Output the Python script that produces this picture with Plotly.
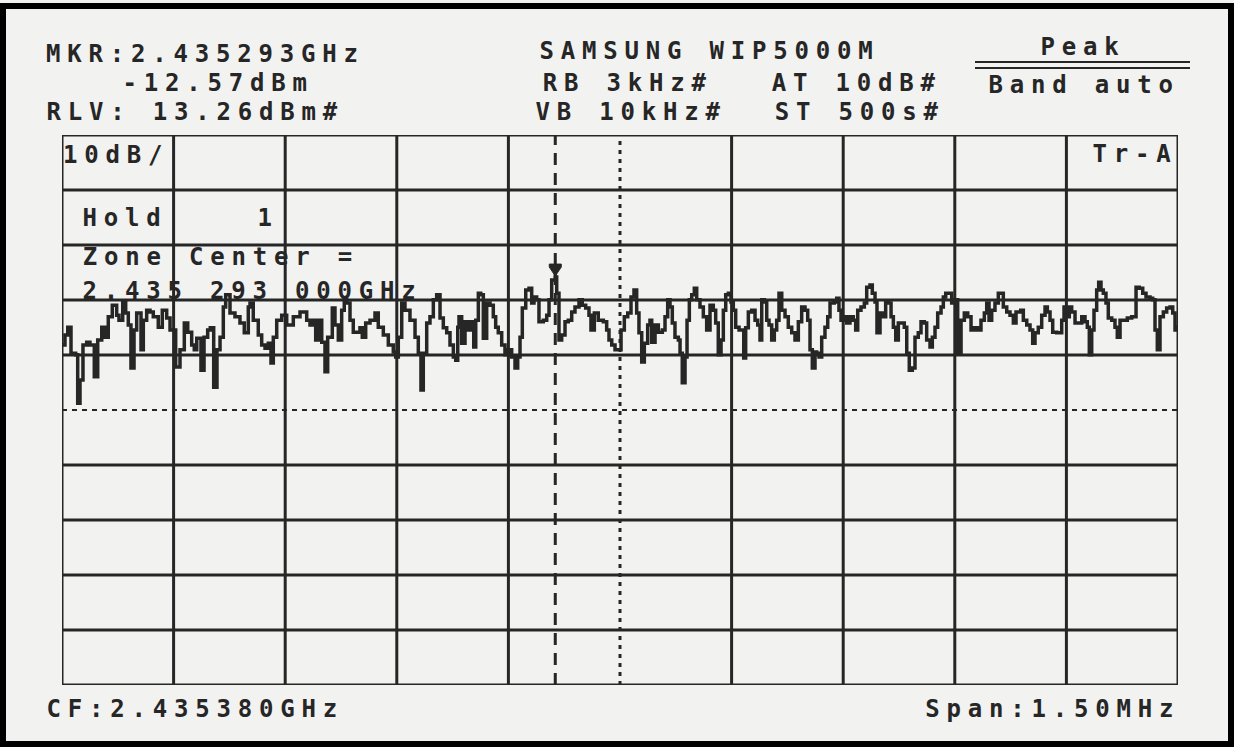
import plotly.graph_objects as go

# ---- instrument settings ----
CF_GHZ = 2.435380
SPAN_MHZ = 1.50
RLV_DBM = 13.26
DB_PER_DIV = 10
N_DIV = 10
MKR_GHZ = 2.435293
MKR_DBM = -12.57

# ---- trace: sweep position (kHz from start of span) and level (dBm) ----
sweep_khz = [
    0, 4.0, 7.7, 12.1, 18.4, 21.1, 24.2, 28.2, 33.2, 37.6, 43.4, 48.0, 53.4, 57.8, 62.2, 67.6, 73.5, 76.6,
    81.6, 85.6, 89.1, 92.7, 96.8, 100.4, 106.2, 109.3, 113.8, 118.3, 122.7, 129.4, 134.8, 140.7, 145.2,
    152.8, 158.6, 164.4, 169.0, 174.3, 177.8, 181.1, 186.8, 190.9, 195.8, 199.3, 203.9, 208.3, 212.4,
    216.8, 220.0, 225.8, 232.5, 239.2, 245.0, 250.4, 252.7, 257.1, 263.8, 268.4, 272.9, 277.3, 280.9,
    284.0, 288.6, 295.3, 302.0, 310.9, 319.9, 328.9, 333.3, 337.8, 341.0, 344.5, 349.1, 353.5, 357.1,
    363.3, 366.9, 371.4, 375.9, 379.4, 382.7, 387.1, 391.5, 400.5, 403.6, 408.2, 414.0, 420.7, 425.1,
    431.9, 438.6, 445.3, 448.5, 452.0, 456.6, 461.0, 467.7, 474.5, 478.9, 482.5, 485.6, 490.2, 494.6,
    499.1, 503.6, 508.1, 512.5, 517.1, 521.5, 526.0, 529.2, 531.9, 533.6, 537.2, 541.7, 546.1, 550.7,
    553.4, 556.1, 559.6, 562.8, 566.3, 570.8, 575.3, 579.7, 582.9, 586.4, 591.0, 595.4, 599.9, 604.4,
    608.9, 612.5, 615.6, 618.7, 623.3, 627.7, 631.3, 634.4, 638.0, 641.1, 646.9, 651.5, 654.6, 658.2,
    663.0, 664.9, 668.0, 671.6, 676.1, 680.5, 685.1, 689.5, 694.9, 699.3, 703.9, 708.3, 711.0, 715.5,
    720.8, 727.6, 732.1, 735.2, 738.9, 743.3, 747.7, 751.4, 755.8, 760.4, 764.8, 768.8, 772.4, 775.5,
    779.2, 782.7, 787.2, 790.3, 792.6, 797.1, 801.5, 806.9, 810.5, 814.1, 817.2, 820.3, 823.9, 828.4,
    830.7, 833.7, 837.4, 840.1, 843.2, 846.4, 849.9, 853.1, 857.5, 862.0, 866.5, 871.0, 875.4, 878.6,
    882.1, 885.8, 888.9, 892.1, 895.6, 899.2, 902.3, 905.5, 910.0, 913.6, 916.3, 918.9, 922.5, 927.0,
    931.5, 935.1, 938.2, 940.5, 944.0, 947.2, 950.3, 953.9, 957.4, 960.6, 963.7, 967.4, 971.8, 976.2,
    980.8, 985.2, 989.7, 994.2, 998.7, 1002.3, 1005.4, 1008.5, 1012.1, 1014.4, 1017.5, 1021.1, 1025.5,
    1029.2, 1032.3, 1038.0, 1041.3, 1044.3, 1047.1, 1051.5, 1054.7, 1059.1, 1063.6, 1066.8, 1069.5,
    1073.9, 1078.4, 1081.6, 1086.0, 1089.1, 1092.8, 1095.4, 1099.5, 1103.9, 1107.1, 1110.6, 1114.3,
    1117.4, 1120.6, 1124.1, 1129.4, 1132.1, 1135.4, 1138.8, 1142.9, 1146.5, 1150.9, 1154.6, 1159.0,
    1162.2, 1166.7, 1169.8, 1173.4, 1177.0, 1181.5, 1184.6, 1187.8, 1191.3, 1195.8, 1200.3, 1203.9,
    1208.4, 1212.8, 1217.4, 1221.8, 1226.2, 1230.8, 1235.2, 1239.7, 1242.9, 1246.0, 1249.6, 1254.0,
    1258.5, 1262.1, 1265.2, 1269.8, 1274.2, 1278.7, 1282.3, 1288.6, 1292.1, 1296.7, 1301.1, 1304.7,
    1307.8, 1312.2, 1316.8, 1321.3, 1324.4, 1328.0, 1331.6, 1337.0, 1340.5, 1343.7, 1346.8, 1350.4,
    1353.9, 1357.1, 1361.6, 1366.0, 1370.6, 1375.0, 1378.1, 1380.8, 1384.0, 1387.1, 1390.7, 1393.4,
    1396.5, 1399.6, 1403.2, 1406.3, 1410.9, 1415.3, 1418.4, 1422.1, 1427.4, 1431.9, 1437.8, 1443.6,
    1448.0, 1452.6, 1457.0, 1462.4, 1466.0, 1469.1, 1472.2, 1475.8, 1480.3, 1484.8, 1489.3, 1492.9,
    1496.0, 1500.0,
]
level_dbm = [
    -24.9, -23.1, -21.7, -26.4, -26.7, -35.5, -31.3, -24.9, -24.4, -24.9, -30.7, -24.0, -21.7, -23.5, -19.8, -17.7, -19.5, -20.4,
    -17.1, -19.1, -21.3, -29.1, -22.2, -19.1, -25.8, -20.4, -18.6, -18.9, -19.8, -21.7, -18.6, -20.0, -22.2,
    -28.9, -25.8, -20.9, -22.6, -24.9, -25.8, -23.7, -29.5, -23.5, -22.2, -21.8, -32.6, -25.8, -23.5,
    -18.0, -15.8, -19.1, -19.8, -20.9, -22.7, -18.0, -17.3, -20.4, -23.1, -24.9, -25.5, -24.6, -28.2,
    -23.5, -20.4, -19.5, -21.3, -19.8, -18.9, -20.4, -21.3, -20.4, -24.0, -20.4, -24.4, -29.8, -23.5,
    -18.2, -21.3, -24.0, -18.6, -16.7, -17.3, -20.4, -22.6, -21.8, -23.5, -20.9, -20.4, -19.1, -21.7,
    -23.1, -24.9, -26.2, -27.1, -23.5, -17.3, -18.6, -20.4, -23.5, -26.4, -33.1, -26.4, -20.9, -19.8,
    -16.7, -15.8, -20.0, -21.8, -22.7, -24.9, -27.1, -27.7, -21.7, -19.8, -24.6, -20.7, -22.2, -20.7,
    -25.3, -20.4, -15.5, -15.8, -23.7, -17.3, -17.7, -19.8, -21.7, -22.7, -24.9, -26.7, -25.8, -27.1,
    -29.1, -27.1, -23.5, -18.2, -14.9, -14.6, -17.3, -16.2, -16.7, -20.7, -20.4, -19.5, -16.7, -13.1,
    -12.57, -15.5, -24.0, -23.1, -20.7, -20.4, -18.9, -18.0, -16.7, -17.7, -18.2, -19.5, -22.2, -19.1,
    -20.4, -20.7, -22.2, -24.0, -24.9, -25.8, -25.8, -22.2, -19.8, -19.1, -16.2, -14.9, -19.1, -22.7,
    -28.0, -24.6, -21.3, -20.4, -24.4, -21.3, -22.6, -22.2, -19.8, -16.7, -18.0, -20.9, -23.5, -24.0,
    -26.4, -31.8, -27.1, -20.4, -16.7, -15.8, -14.6, -16.7, -18.0, -19.8, -22.2, -17.7, -18.6, -20.9,
    -26.7, -24.0, -18.6, -15.8, -15.5, -17.1, -18.6, -21.7, -22.2, -22.2, -27.3, -21.8, -18.9, -18.6,
    -20.4, -21.3, -24.0, -16.7, -17.1, -20.4, -21.3, -24.0, -22.2, -20.4, -15.5, -18.6, -19.8, -21.7,
    -22.7, -24.0, -20.7, -18.0, -18.6, -20.4, -25.8, -29.1, -26.2, -26.4, -27.1, -23.5, -21.7,
    -19.8, -17.3, -17.1, -16.4, -18.6, -20.4, -19.8, -20.9, -19.8, -20.4, -22.2, -18.6,
    -18.0, -17.3, -14.4, -14.0, -15.5, -17.1, -22.7, -19.1, -19.8, -17.1, -17.3, -19.8,
    -21.7, -24.0, -20.9, -20.9, -21.7, -26.4, -29.5, -29.1, -23.5, -22.7, -20.7, -20.9,
    -24.0, -25.3, -23.5, -21.7, -19.1, -18.0, -16.2, -15.5, -15.5, -17.3, -16.7, -26.4,
    -20.4, -19.1, -19.8, -22.2, -21.8, -22.2, -20.4, -19.1, -17.3, -20.4, -18.6, -17.3,
    -15.5, -15.5, -18.0, -18.9, -19.5, -20.9, -18.9, -18.6, -20.4, -21.3, -22.2, -24.6,
    -22.7, -21.7, -19.5, -18.0, -18.9, -20.4, -22.6, -22.7, -22.7, -20.4, -18.0, -19.8,
    -18.0, -18.9, -20.9, -20.9, -19.8, -20.7, -21.7, -26.7, -22.2, -18.6, -14.9, -13.5,
    -14.9, -15.5, -17.3, -20.0, -20.4, -21.7, -23.5, -20.4, -20.4, -20.0, -19.8, -14.4,
    -14.6, -15.5, -16.2, -16.4, -16.7, -22.2, -25.8, -19.8, -18.9, -18.2, -18.0, -19.1,
    -22.2, -21.3,
]

# ---- screen texts ----
header_left = ["MKR:2.435293GHz", "-12.57dBm", "RLV: 13.26dBm#"]
header_mid = ["SAMSUNG WIP5000M", "RB 3kHz#", "AT 10dB#", "VB 10kHz#", "ST 500s#"]
header_right = ["Peak", "Band auto"]
grid_texts = ["10dB/", "Tr-A", "Hold", "1", "Zone Center =", "2.435 293 000GHz"]
footer = ["CF:2.435380GHz", "Span:1.50MHz"]

# ---- derived scales ----
F_START = CF_GHZ - SPAN_MHZ / 2000.0
F_STOP = CF_GHZ + SPAN_MHZ / 2000.0
Y_BOT = RLV_DBM - DB_PER_DIV * N_DIV
freq_ghz = [F_START + k * 1e-6 for k in sweep_khz]

W, H = 1234, 747
PL, PR, PT, PB = 62, 1178, 135, 685


def px(x):
    return (x - PL) / (PR - PL)


def py(y):
    return (PB - y) / (PB - PT)


INK = "#262626"
BG = "#f2f2f1"

fig = go.Figure()
fig.add_trace(go.Scatter(x=freq_ghz, y=level_dbm, mode="lines",
                         line=dict(color=INK, width=3.5, shape="hv"),
                         hoverinfo="skip", showlegend=False))

shapes = []
# graticule
for i in range(N_DIV + 1):
    xv = F_START + i * (F_STOP - F_START) / N_DIV
    dash = "solid"
    w = 3
    if i == N_DIV // 2:
        dash = "4px,5px"
    shapes.append(dict(type="line", xref="x", yref="y", x0=xv, x1=xv, y0=Y_BOT, y1=RLV_DBM,
                       line=dict(color=INK, width=w, dash=dash), layer="below"))
for i in range(N_DIV + 1):
    yv = RLV_DBM - i * DB_PER_DIV
    dash = "solid"
    w = 3
    if i == N_DIV // 2:
        dash = "5px,5px"
        w = 2
    shapes.append(dict(type="line", xref="x", yref="y", x0=F_START, x1=F_STOP, y0=yv, y1=yv,
                       line=dict(color=INK, width=w, dash=dash), layer="below"))
# marker line
shapes.append(dict(type="line", xref="x", yref="y", x0=MKR_GHZ, x1=MKR_GHZ, y0=Y_BOT, y1=RLV_DBM,
                   line=dict(color=INK, width=3, dash="12px,8px"), layer="below"))
# marker symbol
shapes.append(dict(type="path", xsizemode="pixel", ysizemode="pixel", xref="x", yref="y",
                   xanchor=MKR_GHZ, yanchor=MKR_DBM,
                   path="M -6 13 L 6 13 L 6 10 L 0 1 L -6 10 Z",
                   fillcolor=INK, line=dict(color=INK, width=1)))
# Peak double underline
for yy in (62, 68):
    shapes.append(dict(type="line", xref="paper", yref="paper", x0=px(975), x1=px(1190),
                       y0=py(yy), y1=py(yy), line=dict(color=INK, width=2)))
# outer frame of the scan
shapes.append(dict(type="rect", xref="paper", yref="paper", x0=px(3), x1=px(1231),
                   y0=py(744), y1=py(6), line=dict(color="#000000", width=6)))

ann = []


def txt(s, cx, cy, size=24):
    ann.append(dict(text=s, xref="paper", yref="paper", x=px(cx), y=py(cy),
                    xanchor="center", yanchor="middle", align="center", showarrow=False,
                    borderpad=0,
                    font=dict(family="DejaVu Sans Mono", size=size, color=INK, weight="bold")))


txt(header_left[0], 205, 54)
txt(header_left[1], 218, 83)
txt(header_left[2], 195, 112)
txt(header_mid[0], 709, 51)
txt(header_mid[1], 628, 83)
txt(header_mid[2], 857, 83)
txt(header_mid[3], 631, 112)
txt(header_mid[4], 860, 112)
txt(header_right[0], 1083, 47)
txt(header_right[1], 1084, 85)
txt(grid_texts[0], 116, 155)
txt(grid_texts[1], 1135, 154)
txt(grid_texts[2], 125, 218)
txt(grid_texts[3], 268, 218)
txt(grid_texts[4], 221, 257)
txt(grid_texts[5], 252, 291)
txt(footer[0], 195, 709)
txt(footer[1], 1052, 709)

fig.update_layout(
    width=W, height=H, autosize=False,
    margin=dict(l=PL, r=W - PR, t=PT, b=H - PB, pad=0),
    paper_bgcolor=BG, plot_bgcolor=BG,
    xaxis=dict(range=[F_START, F_STOP], showgrid=False, zeroline=False, showticklabels=False,
               ticks="", showline=False, fixedrange=True),
    yaxis=dict(range=[Y_BOT, RLV_DBM], showgrid=False, zeroline=False, showticklabels=False,
               ticks="", showline=False, fixedrange=True),
    shapes=shapes, annotations=ann, showlegend=False,
)

js = ("var s=document.createElement('style');"
      "s.innerHTML='html,body{margin:0;padding:0;background:#f2f2f1;}"
      ".annotation-text{letter-spacing:6.8px;}';"
      "document.head.appendChild(s);")
fig.write_html("out.html", post_script=js, config={"displayModeBar": False})
